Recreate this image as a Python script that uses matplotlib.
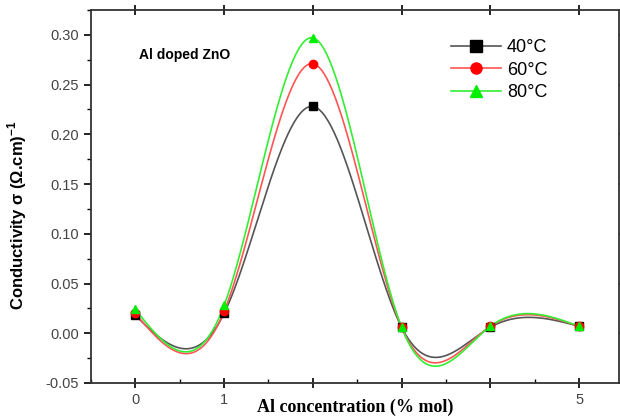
import numpy as np
import matplotlib
matplotlib.use("Agg")
import matplotlib.pyplot as plt
from matplotlib.ticker import MultipleLocator

conc = [0, 1, 2, 3, 4, 5]
s40 = [0.018, 0.020, 0.228, 0.006, 0.006, 0.007]
s60 = [0.020, 0.022, 0.271, 0.006, 0.007, 0.007]
s80 = [0.024, 0.028, 0.297, 0.006, 0.007, 0.007]
labels = ["40°C", "60°C", "80°C"]
xtick_labels = ["0", "1", "", "", "", "5"]


def natural_spline(x, y, n=300):
    x = np.asarray(x, float)
    y = np.asarray(y, float)
    k = len(x)
    h = np.diff(x)
    A = np.zeros((k, k))
    b = np.zeros(k)
    A[0, 0] = A[-1, -1] = 1
    for i in range(1, k - 1):
        A[i, i - 1] = h[i - 1]
        A[i, i] = 2 * (h[i - 1] + h[i])
        A[i, i + 1] = h[i]
        b[i] = 3 * ((y[i + 1] - y[i]) / h[i] - (y[i] - y[i - 1]) / h[i - 1])
    c = np.linalg.solve(A, b)
    xs = np.linspace(x[0], x[-1], n)
    ys = np.empty_like(xs)
    for j, xv in enumerate(xs):
        i = min(np.searchsorted(x, xv, side="right") - 1, k - 2)
        i = max(i, 0)
        bi = (y[i + 1] - y[i]) / h[i] - h[i] * (2 * c[i] + c[i + 1]) / 3
        di = (c[i + 1] - c[i]) / (3 * h[i])
        dx = xv - x[i]
        ys[j] = y[i] + bi * dx + c[i] * dx ** 2 + di * dx ** 3
    return xs, ys


fig = plt.figure(figsize=(6.2, 4.16), dpi=100)
ax = fig.add_axes([91 / 620, 1 - 383 / 416, (619 - 91) / 620, (383 - 10) / 416])

styles = [
    (s40, "#555555", "black", "s"),
    (s60, "#ff5555", "#ff0000", "o"),
    (s80, "#33ee33", "#00ee00", "^"),
]
for (ys, lc, mc, mk), lab in zip(styles, labels):
    xs_, ys_ = natural_spline(conc, ys)
    ax.plot(xs_, ys_, color=lc, lw=1.2, zorder=2)
    ax.plot(conc, ys, linestyle="none", marker=mk, color=mc, ms=6, zorder=3)
    ax.plot([], [], color=lc, lw=1.2, marker=mk, mfc=mc, mec=mc, ms=8, label=lab)

ax.set_xlim(-0.5, 5.45)
ax.set_ylim(-0.05, 0.325)
ax.set_xticks(conc)
ax.set_xticklabels(xtick_labels)
ax.xaxis.set_minor_locator(MultipleLocator(0.5))
yt = np.arange(-0.05, 0.301, 0.05)
ax.set_yticks(yt)
ax.set_yticklabels(["%.2f" % v for v in yt])
ax.yaxis.set_minor_locator(MultipleLocator(0.025))

for lab in ax.get_xticklabels() + ax.get_yticklabels():
    lab.set_fontfamily("Liberation Sans")
    lab.set_fontsize(10.5)
ax.tick_params(axis="x", which="major", direction="inout", length=7, width=1.2, top=True)
ax.tick_params(axis="x", which="minor", direction="in", length=3, width=1, top=False)
ax.tick_params(axis="y", which="major", direction="out", length=5, width=1.2, right=True)
ax.tick_params(axis="y", which="minor", direction="out", length=3, width=1)
ax.tick_params(axis="both", labelcolor="#444444")
for sp in ax.spines.values():
    sp.set_linewidth(1.3)
    sp.set_color("#333333")

ax.set_xlabel("Al concentration (% mol)", family="Liberation Serif",
              fontweight="bold", fontsize=13, labelpad=-6)
ax.set_ylabel(r"Conductivity σ (Ω.cm)$^{\mathregular{-1}}$", family="Liberation Sans",
              fontweight="bold", fontsize=12)
ax.yaxis.set_label_coords(-0.118, 0.45)

ax.text(0.178, 0.879, "Al doped ZnO", transform=ax.transAxes, family="Liberation Sans",
        fontweight="bold", fontsize=10, ha="center", va="center")

leg = ax.legend(loc="upper right", bbox_to_anchor=(0.895, 0.965), frameon=False,
                prop=dict(family="Liberation Sans", size=13), handlelength=2.8,
                labelspacing=0.3, handletextpad=0.3)

fig.savefig("out.png", dpi=100)
